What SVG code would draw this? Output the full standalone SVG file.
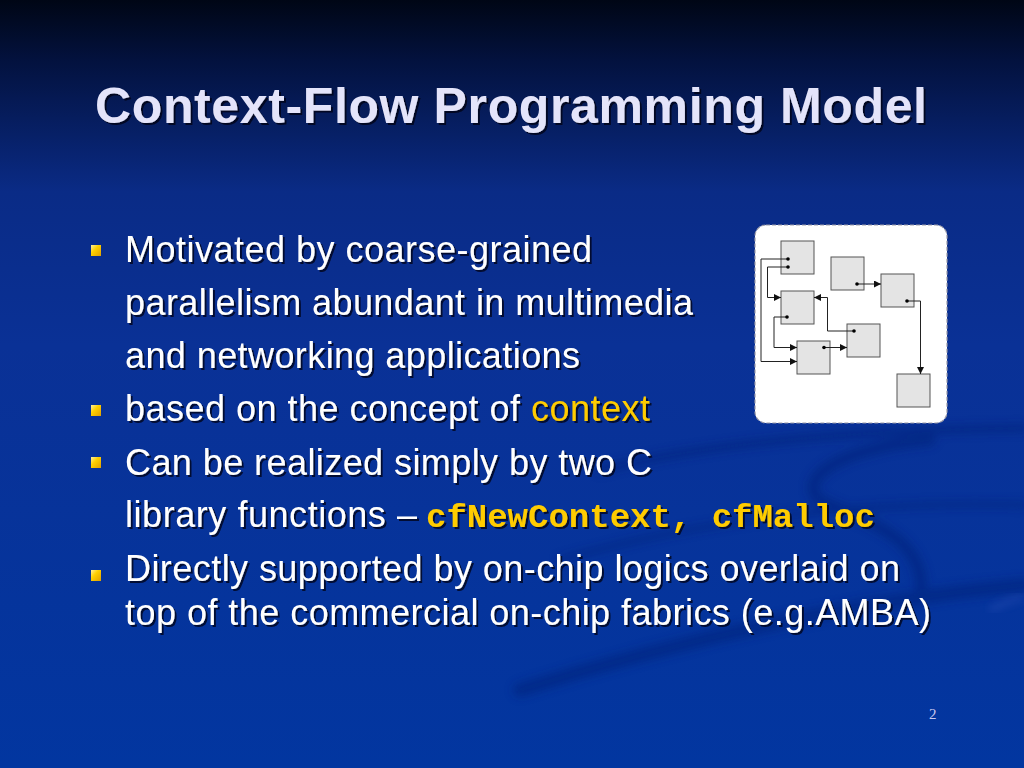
<svg xmlns="http://www.w3.org/2000/svg" width="1024" height="768" viewBox="0 0 1024 768">
  <defs>
    <linearGradient id="bg" x1="0" y1="0" x2="0" y2="1">
      <stop offset="0" stop-color="#000615"/>
      <stop offset="0.08" stop-color="#03123f"/>
      <stop offset="0.25" stop-color="#0a2b86"/>
      <stop offset="0.45" stop-color="#0a3196"/>
      <stop offset="1" stop-color="#0236a0"/>
    </linearGradient>
    <filter id="sh" x="-5%" y="-20%" width="110%" height="150%">
      <feDropShadow dx="2" dy="2" stdDeviation="0.6" flood-color="#000010" flood-opacity="0.75"/>
    </filter>
    <filter id="blur" x="-20%" y="-20%" width="140%" height="140%">
      <feGaussianBlur stdDeviation="4"/>
    </filter>
    <marker id="arr" viewBox="0 0 8 8" refX="8" refY="4" markerWidth="7" markerHeight="7" markerUnits="userSpaceOnUse" orient="auto">
      <path d="M0,0 L8,4 L0,8 z" fill="#111"/>
    </marker>
    <linearGradient id="bul" x1="0" y1="0" x2="1" y2="1">
      <stop offset="0" stop-color="#fff0a0"/>
      <stop offset="0.4" stop-color="#ffd000"/>
      <stop offset="1" stop-color="#e0a000"/>
    </linearGradient>
  </defs>
  <style>
    .title { font-family: "Liberation Sans", Arial, sans-serif; font-weight: bold; font-size: 50px; fill: #e4e4fa; }
    .body { font-family: "Liberation Sans", Arial, sans-serif; font-size: 36px; fill: #ffffff; }
    .yel { fill: #ffcc00; }
    .mono { font-family: "Liberation Mono", "Courier New", monospace; font-weight: bold; font-size: 34px; fill: #ffcc00; }
    .bullet { fill: url(#bul); }
    .box { fill: #e4e4e4; stroke: #555555; stroke-width: 1; }
    .wire { fill: none; stroke: #222222; stroke-width: 1; marker-end: url(#arr); }
    .dot { fill: #000000; }
    .pnum { font-family: "Liberation Serif", "Times New Roman", serif; font-size: 15px; fill: #c8c8ee; }
    .sw { fill: none; stroke: #00207a; stroke-linecap: round; }
  </style>

  <!-- background -->
  <rect x="0" y="0" width="1024" height="768" fill="url(#bg)"/>
  <g opacity="0.55" filter="url(#blur)">
    <path class="sw" stroke-width="14" d="M520,690 C680,640 860,600 1024,585"/>
    <path class="sw" stroke-width="8" d="M600,470 C720,440 880,430 1024,428"/>
    <path class="sw" stroke-width="12" d="M930,440 C820,450 790,490 830,505 C880,525 930,545 920,600"/>
    <path class="sw" stroke-width="6" d="M560,560 C700,520 860,500 1024,505"/>
  </g>
  <path d="M990,610 C1005,602 1015,598 1024,596" stroke="#3a5cc0" stroke-width="5" fill="none" opacity="0.4" filter="url(#blur)"/>

  <!-- title -->
  <text class="title" x="95" y="123" textLength="832" filter="url(#sh)">Context-Flow Programming Model</text>

  <!-- bullets -->
  <g id="bullets">
    <rect class="bullet" x="91" y="245" width="10" height="11"/>
    <rect class="bullet" x="91" y="405" width="10" height="11"/>
    <rect class="bullet" x="91" y="457" width="10" height="11"/>
    <rect class="bullet" x="91" y="570" width="10" height="11"/>
  </g>

  <!-- body text -->
  <g id="body" filter="url(#sh)">
    <text class="body" x="125" y="262" textLength="467">Motivated by coarse-grained</text>
    <text class="body" x="125" y="315" textLength="568">parallelism abundant in multimedia</text>
    <text class="body" x="125" y="368" textLength="455">and networking applications</text>
    <text class="body" x="125" y="421" textLength="525">based on the concept of <tspan class="yel">context</tspan></text>
    <text class="body" x="125" y="475" textLength="527">Can be realized simply by two C</text>
    <text class="body" x="125" y="527" textLength="292">library functions –</text>
    <text class="mono" x="426" y="527">cfNewContext, cfMalloc</text>
    <text class="body" x="125" y="581" textLength="775">Directly supported by on-chip logics overlaid on</text>
    <text class="body" x="125" y="625" textLength="806">top of the commercial on-chip fabrics (e.g.AMBA)</text>
  </g>

  <!-- diagram panel -->
  <rect x="755" y="225" width="192" height="198" rx="11" ry="11" fill="#ffffff" stroke="#9a9aa8" stroke-width="1.2" stroke-dasharray="4,2"/>

  <g id="node-A"><rect class="box" x="781" y="241" width="33" height="33"/></g>
  <g id="node-B"><rect class="box" x="831" y="257" width="33" height="33"/></g>
  <g id="node-C"><rect class="box" x="881" y="274" width="33" height="33"/></g>
  <g id="node-D"><rect class="box" x="781" y="291" width="33" height="33"/></g>
  <g id="node-E"><rect class="box" x="847" y="324" width="33" height="33"/></g>
  <g id="node-F"><rect class="box" x="797" y="341" width="33" height="33"/></g>
  <g id="node-G"><rect class="box" x="897" y="374" width="33" height="33"/></g>

  <g id="connectors">
    <path class="wire" d="M788,259 H761 V361.5 H797"/>
    <path class="wire" d="M788,267 H767.5 V297.5 H781"/>
    <path class="wire" d="M857,284 H881"/>
    <path class="wire" d="M907,301 H920.5 V374"/>
    <path class="wire" d="M787,317 H774 V347.5 H797"/>
    <path class="wire" d="M854,331 H827.5 V297.5 H814"/>
    <path class="wire" d="M824,347.5 H847"/>
    <circle class="dot" cx="788" cy="259" r="1.8"/>
    <circle class="dot" cx="788" cy="267" r="1.8"/>
    <circle class="dot" cx="857" cy="284" r="1.8"/>
    <circle class="dot" cx="907" cy="301" r="1.8"/>
    <circle class="dot" cx="787" cy="317" r="1.8"/>
    <circle class="dot" cx="854" cy="331" r="1.8"/>
    <circle class="dot" cx="824" cy="347.5" r="1.8"/>
  </g>

  <text class="pnum" x="929" y="719">2</text>
</svg>
